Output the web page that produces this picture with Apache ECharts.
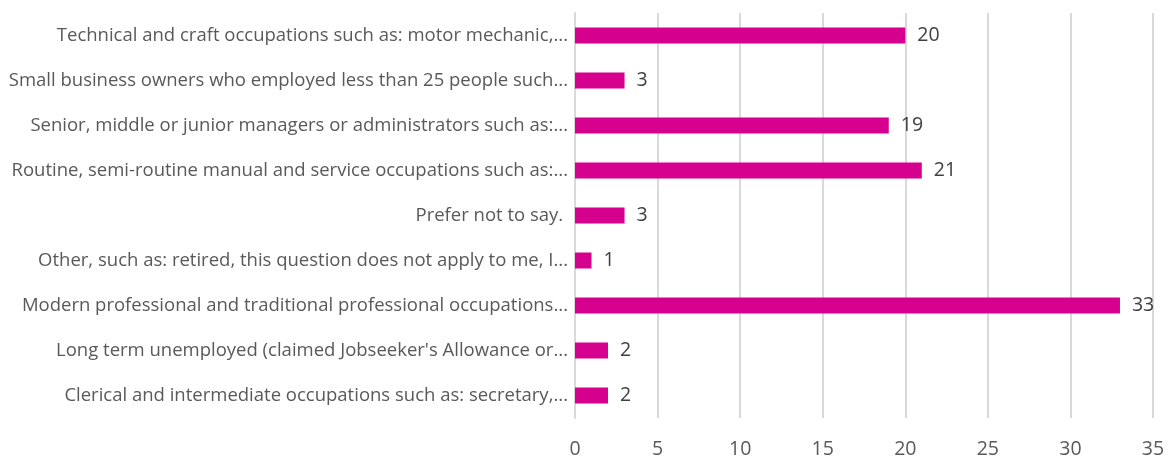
<!DOCTYPE html>
<html lang="en">
<head>
    <meta charset="UTF-8">
    <title>Occupation chart</title>
    <script src="https://cdn.jsdelivr.net/npm/echarts@6.0.0/dist/echarts.min.js"></script>
    <style>
        html, body { margin: 0; padding: 0; background: #fff; }
        #chart { width: 1174px; height: 459px; }
    </style>
</head>
<body>
    <div id="chart"></div>
    <script>
        // categories top to bottom, as shown
        const categories = [
            'Technical and craft occupations such as: motor mechanic,...',
            'Small business owners who employed less than 25 people such...',
            'Senior, middle or junior managers or administrators such as:...',
            'Routine, semi-routine manual and service occupations such as:...',
            'Prefer not to say. ',
            'Other, such as: retired, this question does not apply to me, I...',
            'Modern professional and traditional professional occupations...',
            "Long term unemployed (claimed Jobseeker's Allowance or...",
            'Clerical and intermediate occupations such as: secretary,...'
        ];
        const counts = [20, 3, 19, 21, 3, 1, 33, 2, 2];
        const axisMax = 35;
        const axisStep = 5;

        const chart = echarts.init(document.getElementById('chart'));
        const textColor = '#595959';
        const font = "'Open Sans', 'Noto Sans', sans-serif";

        chart.setOption({
            animation: false,
            grid: { left: 575, right: 21, top: 13, bottom: 39 },
            xAxis: {
                type: 'value',
                min: 0,
                max: axisMax,
                interval: axisStep,
                axisLine: { show: false },
                axisTick: { show: false },
                splitLine: { lineStyle: { color: '#d9d9d9', width: 2 } },
                axisLabel: { color: textColor, fontSize: 19.5, fontFamily: font, margin: 21 }
            },
            yAxis: {
                type: 'category',
                inverse: true,
                data: categories,
                axisLine: { show: true, lineStyle: { color: '#d9d9d9', width: 2 } },
                axisTick: { show: false },
                axisLabel: { color: textColor, fontSize: 18.5, fontFamily: font, margin: 7 }
            },
            series: [{
                type: 'bar',
                data: counts,
                barWidth: 16,
                itemStyle: { color: '#d6008f' },
                label: {
                    show: true,
                    position: 'right',
                    distance: 12,
                    color: '#404040',
                    fontSize: 19.5,
                    fontFamily: font
                }
            }]
        });
    </script>
</body>
</html>
